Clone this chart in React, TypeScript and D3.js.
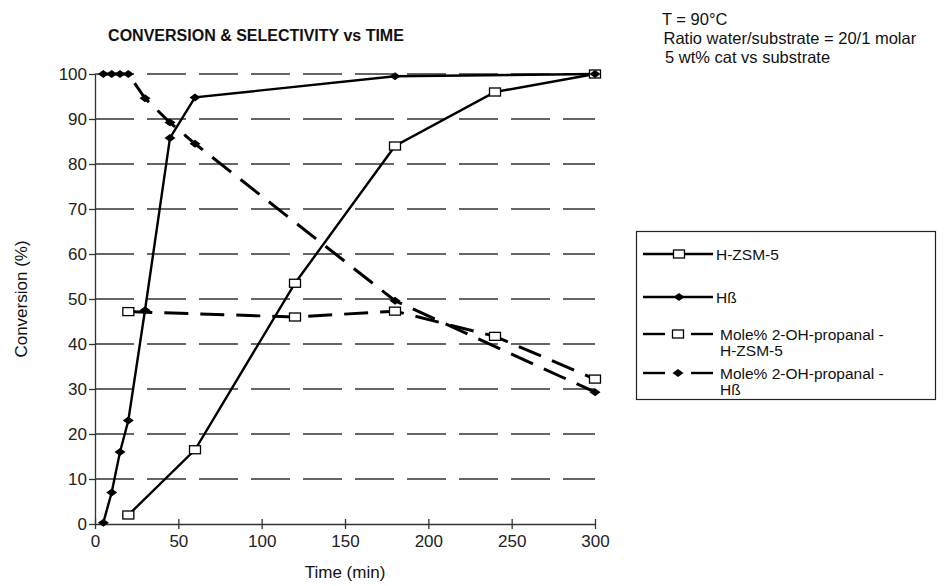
import React, { useRef, useEffect } from 'react';
import * as d3 from 'd3';

// time in minutes
const zsmTime = [20, 60, 120, 180, 240, 300];
const zsmConv = [2, 16.5, 53.5, 84, 96, 100];

const betaTime = [5, 10, 15, 20, 30, 45, 60, 180, 300];
const betaConv = [0.3, 7, 16, 23, 47.5, 85.8, 94.8, 99.5, 100];

const zsmSelTime = [20, 120, 180, 240, 300];
const zsmSel = [47.2, 46, 47.3, 41.7, 32.2];

const betaSelTime = [5, 10, 15, 20, 30, 45, 60, 180, 300];
const betaSel = [100, 100, 100, 100, 94.6, 89.2, 84.5, 49.6, 29.3];

const xTicks = [0, 50, 100, 150, 200, 250, 300];
const yTicks = [0, 10, 20, 30, 40, 50, 60, 70, 80, 90, 100];

const legendLabels = [
    ['H-ZSM-5'],
    ['Hß'],
    ['Mole% 2-OH-propanal -', 'H-ZSM-5'],
    ['Mole% 2-OH-propanal -', 'Hß'],
];

const infoLines = ['T = 90°C', 'Ratio water/substrate = 20/1 molar', '5 wt% cat vs substrate'];

const FONT = '"Liberation Sans", Arial, sans-serif';

const App = () => {
    const chartRef = useRef<SVGSVGElement>(null);

    useEffect(() => {
        const width = 952;
        const height = 586;
        const margin = { top: 74, right: 357, bottom: 62, left: 95 };

        const x = d3.scaleLinear()
            .domain([0, 300])
            .range([margin.left, width - margin.right]);

        const y = d3.scaleLinear()
            .domain([0, 100])
            .range([height - margin.bottom, margin.top]);

        const svg = d3.select(chartRef.current)
            .attr('width', width)
            .attr('height', height)
            .style('font-family', FONT);

        svg.selectAll('*').remove();

        svg.append('rect').attr('width', width).attr('height', height).attr('fill', '#fff');

        // gridlines
        svg.append('g')
            .selectAll('line')
            .data(yTicks.filter(d => d > 0))
            .join('line')
            .attr('x1', x(0))
            .attr('x2', x(300))
            .attr('y1', d => y(d))
            .attr('y2', d => y(d))
            .attr('stroke', '#333')
            .attr('stroke-width', 1.3)
            .attr('stroke-dasharray', '39,13');

        // y axis
        const yAxis = svg.append('g')
            .attr('transform', `translate(${x(0)},0)`)
            .call(d3.axisLeft(y).tickValues(yTicks).tickSize(6).tickSizeOuter(0).tickPadding(2));
        yAxis.selectAll('path, line').attr('stroke', '#333').attr('stroke-width', 1.3);
        yAxis.selectAll('text').attr('font-size', 17).attr('font-family', FONT).attr('fill', '#222');

        // x axis
        const xAxis = svg.append('g')
            .attr('transform', `translate(0,${y(0)})`)
            .call(d3.axisBottom(x).tickValues(xTicks).tickSize(5).tickSizeOuter(0).tickPadding(6));
        xAxis.selectAll('path, line').attr('stroke', '#333').attr('stroke-width', 1.3);
        xAxis.selectAll('.tick line').attr('y1', -5);
        xAxis.selectAll('text').attr('font-size', 17).attr('font-family', FONT).attr('fill', '#222');

        const line = d3.line<[number, number]>().x(d => x(d[0])).y(d => y(d[1]));

        const series = [
            { t: zsmTime, v: zsmConv, dashed: false, marker: 'square' },
            { t: betaTime, v: betaConv, dashed: false, marker: 'diamond' },
            { t: zsmSelTime, v: zsmSel, dashed: true, marker: 'square' },
            { t: betaSelTime, v: betaSel, dashed: true, marker: 'diamond' },
        ];

        const drawMarker = (g: any, kind: string, cx: number, cy: number) => {
            if (kind === 'square') {
                g.append('rect')
                    .attr('x', cx - 5.5).attr('y', cy - 4)
                    .attr('width', 11).attr('height', 8)
                    .attr('fill', '#fff').attr('stroke', '#000').attr('stroke-width', 1.3);
            } else {
                g.append('path')
                    .attr('d', `M${cx - 5.5},${cy}L${cx},${cy - 4}L${cx + 5.5},${cy}L${cx},${cy + 4}Z`)
                    .attr('fill', '#000');
            }
        };

        series.forEach(s => {
            const pts = s.t.map((t, i) => [t, s.v[i]] as [number, number]);
            svg.append('path')
                .attr('d', line(pts))
                .attr('fill', 'none')
                .attr('stroke', '#000')
                .attr('stroke-width', s.dashed ? 3 : 2.4)
                .attr('stroke-dasharray', s.dashed ? '24,12' : null);
        });
        series.forEach(s => {
            const g = svg.append('g');
            s.t.forEach((t, i) => drawMarker(g, s.marker, x(t), y(s.v[i])));
        });

        // title
        svg.append('text')
            .attr('x', 256).attr('y', 41)
            .attr('text-anchor', 'middle')
            .attr('font-size', 16).attr('font-weight', 'bold')
            .attr('fill', '#111')
            .text('CONVERSION & SELECTIVITY vs TIME');

        // conditions text
        svg.append('g')
            .selectAll('text')
            .data(infoLines)
            .join('text')
            .attr('x', (d, i) => 662 + i * 1.5)
            .attr('y', (d, i) => 25 + i * 19)
            .attr('font-size', 16.5)
            .attr('fill', '#111')
            .text(d => d);

        // axis titles
        svg.append('text')
            .attr('transform', `translate(27,${y(50)}) rotate(-90)`)
            .attr('text-anchor', 'middle')
            .attr('font-size', 17).attr('fill', '#111')
            .text('Conversion (%)');
        svg.append('text')
            .attr('x', 345).attr('y', 578)
            .attr('text-anchor', 'middle')
            .attr('font-size', 17).attr('fill', '#111')
            .text('Time (min)');

        // legend
        const lg = svg.append('g');
        lg.append('rect')
            .attr('x', 636.5).attr('y', 231.5)
            .attr('width', 299).attr('height', 168)
            .attr('fill', '#fff').attr('stroke', '#222').attr('stroke-width', 1.2);
        const rowY = [254, 297, 334, 373];
        series.forEach((s, i) => {
            const ly = rowY[i];
            const segs = s.dashed ? [[643, 665], [691, 713]] : [[643, 713]];
            segs.forEach(([a, b]) => {
                lg.append('line')
                    .attr('x1', a).attr('x2', b)
                    .attr('y1', ly).attr('y2', ly)
                    .attr('stroke', '#000')
                    .attr('stroke-width', 2.4);
            });
            drawMarker(lg, s.marker, s.dashed ? 678 : 679, ly);
            legendLabels[i].forEach((txt, j) => {
                lg.append('text')
                    .attr('x', s.dashed ? 720 : 716)
                    .attr('y', ly + 6 + j * 16)
                    .attr('font-size', 15.5)
                    .attr('fill', '#111')
                    .text(txt);
            });
        });
    }, []);

    return (
        <svg ref={chartRef} style={{ position: 'absolute', left: 0, top: 0 }}></svg>
    );
};

export default App;
